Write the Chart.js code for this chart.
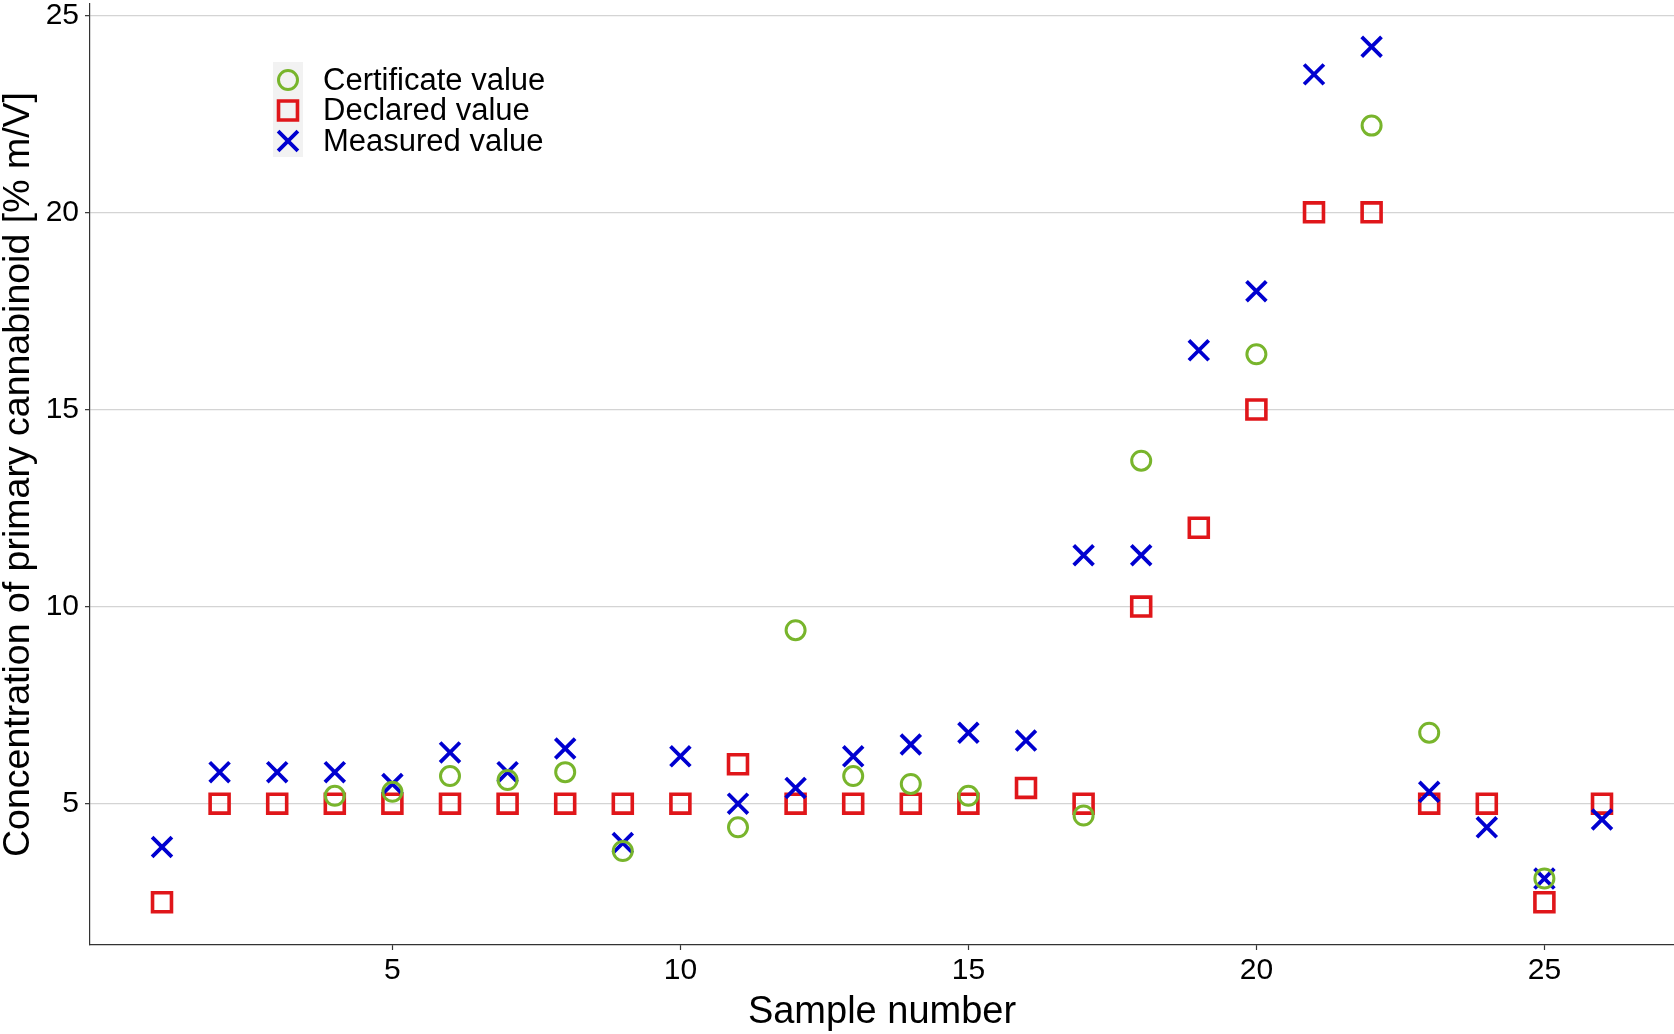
<!DOCTYPE html>
<html>
<head>
<meta charset="utf-8">
<script src="https://cdn.jsdelivr.net/npm/chart.js@4/dist/chart.umd.min.js"></script>
<style>
  html, body { margin: 0; padding: 0; background: #ffffff; }
  #wrap { width: 1674px; height: 1034px; }
</style>
</head>
<body>
<div id="wrap"><canvas id="c" width="1674" height="1034"></canvas></div>
<script>
// ---- data ----
const samples = [1,2,3,4,5,6,7,8,9,10,11,12,13,14,15,16,17,18,19,20,21,22,23,24,25,26];
const certificateValues = [null,null,null,5.2,5.3,5.7,5.6,5.8,3.8,null,4.4,9.4,5.7,5.5,5.2,null,4.7,13.7,null,16.4,null,22.2,6.8,null,3.1,null];
const declaredValues = [2.5,5,5,5,5,5,5,5,5,5,6,5,5,5,5,5.4,5,10,12,15,20,20,5,5,2.5,5];
const measuredValues = [3.9,5.8,5.8,5.8,5.5,6.3,5.8,6.4,4.0,6.2,5.0,5.4,6.2,6.5,6.8,6.6,11.3,11.3,16.5,18.0,23.5,24.2,5.3,4.4,3.1,4.6];
const seriesLabels = ['Certificate value', 'Declared value', 'Measured value'];
const xTicks = [5, 10, 15, 20, 25];
const yTicks = [5, 10, 15, 20, 25];
const xTitle = 'Sample number';
const yTitle = 'Concentration of primary cannabinoid [% m/V]';

const FONT = '"Liberation Sans", Arial, sans-serif';
const GREEN = '#78B52C', RED = '#E0161A', BLUE = '#0000D0';

function pts(vals) {
  const out = [];
  samples.forEach((s, i) => { if (vals[i] !== null) out.push({x: s, y: vals[i]}); });
  return out;
}

const styles = [
  {pointStyle: 'circle', radius: 9.5, borderWidth: 3.0, color: GREEN},
  {pointStyle: 'rect', radius: 13.4, borderWidth: 3.6, color: RED},
  {pointStyle: 'crossRot', radius: 14, borderWidth: 3.8, color: BLUE}
];

const datasets = [certificateValues, declaredValues, measuredValues].map((vals, i) => ({
  label: seriesLabels[i],
  data: pts(vals),
  showLine: false,
  order: [0, 2, 1][i],
  pointStyle: styles[i].pointStyle,
  pointRadius: styles[i].radius,
  pointHoverRadius: styles[i].radius,
  pointBorderWidth: styles[i].borderWidth,
  pointBorderColor: styles[i].color,
  pointBackgroundColor: 'rgba(0,0,0,0)',
  borderColor: styles[i].color,
  backgroundColor: 'rgba(0,0,0,0)'
}));

const legendPlugin = {
  id: 'insideLegend',
  afterDraw(chart) {
    const ctx = chart.ctx;
    ctx.save();
    ctx.fillStyle = '#F2F2F2';
    ctx.fillRect(273, 62, 30, 95);
    const rows = [80, 110.5, 141];
    styles.forEach((st, i) => {
      ctx.strokeStyle = st.color;
      ctx.fillStyle = 'rgba(0,0,0,0)';
      ctx.lineWidth = st.borderWidth;
      Chart.helpers.drawPoint(ctx, {pointStyle: st.pointStyle, radius: st.radius, rotation: 0, borderWidth: st.borderWidth}, 288, rows[i]);
      ctx.fillStyle = '#000';
      ctx.font = '31px ' + FONT;
      ctx.textBaseline = 'middle';
      ctx.textAlign = 'left';
      ctx.fillText(seriesLabels[i], 323, rows[i] + 1);
    });
    ctx.restore();
  }
};

new Chart(document.getElementById('c'), {
  type: 'scatter',
  data: { datasets },
  options: {
    responsive: false,
    animation: false,
    devicePixelRatio: 1,
    layout: { autoPadding: false, padding: { top: 4, right: 0, left: 0, bottom: 0 } },
    plugins: { legend: { display: false }, tooltip: { enabled: false } },
    scales: {
      x: {
        type: 'linear',
        position: 'bottom',
        min: -0.25,
        max: 27.25,
        afterBuildTicks: s => { s.ticks = xTicks.map(v => ({value: v})); },
        afterFit: s => { s.height = 89; s.paddingLeft = 0; s.paddingRight = 0; },
        grid: { drawOnChartArea: false, drawTicks: true, tickLength: 5, tickColor: '#333', tickWidth: 1.2 },
        border: { display: true, color: '#333', width: 1.2 },
        ticks: { font: { family: FONT, size: 30, lineHeight: 1 }, color: '#000', padding: 6, maxRotation: 0 },
        title: { display: true, text: xTitle, color: '#000', font: { family: FONT, size: 38, lineHeight: 1 }, padding: { top: 0, bottom: 2 } }
      },
      y: {
        type: 'linear',
        min: 1.415,
        max: 25.285,
        afterBuildTicks: s => { s.ticks = yTicks.map(v => ({value: v})); },
        afterFit: s => { s.width = 90; s.paddingTop = 0; s.paddingBottom = 0; },
        grid: { color: '#D4D4D4', lineWidth: 1.3, drawTicks: true, tickLength: 5, tickColor: '#333', tickWidth: 1.2 },
        border: { display: true, color: '#333', width: 1.2 },
        ticks: { font: { family: FONT, size: 30, lineHeight: 1 }, color: '#000', padding: 6 },
        title: { display: true, text: yTitle, color: '#000', font: { family: FONT, size: 37.5, lineHeight: 1 }, padding: { top: 0, bottom: 0 } }
      }
    }
  },
  plugins: [legendPlugin]
});
</script>
</body>
</html>
